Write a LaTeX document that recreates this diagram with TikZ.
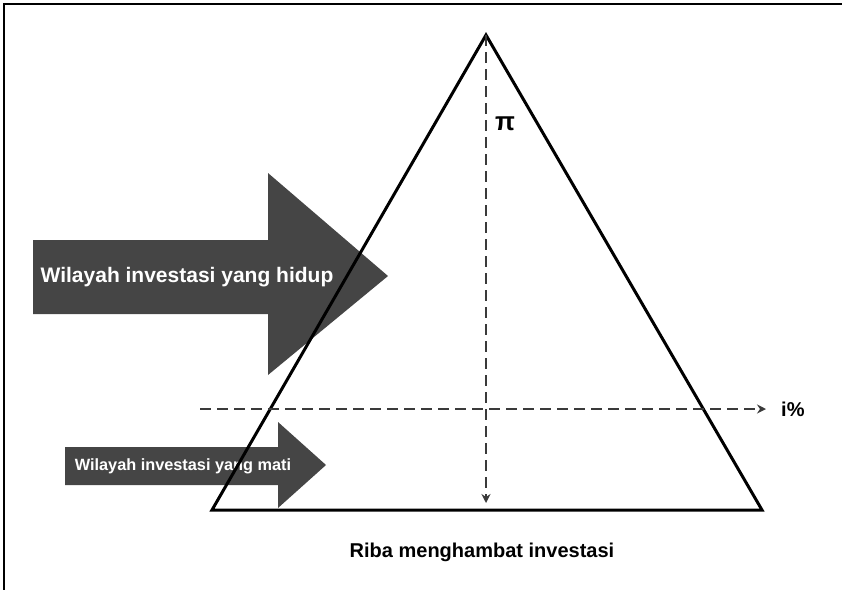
\documentclass[tikz,border=0pt]{standalone}
\usepackage{fontspec}
\setmainfont{Liberation Sans}
\usetikzlibrary{arrows.meta,positioning}
\definecolor{zonegray}{HTML}{454545}
\definecolor{axisgray}{HTML}{3A3A3A}

\begin{document}
\begin{tikzpicture}[x=1pt,y=-1pt,
  zonearrow/.style={fill=zonegray,draw=none},
  zonetext/.style={text=white,font=\bfseries\fontsize{#1}{#1}\selectfont,inner sep=0pt},
  axisline/.style={dash pattern=on 11pt off 6pt,line width=2.2pt,draw=axisgray,-{Stealth[length=9pt,width=9pt]}},
  axislabel/.style={font=\bfseries\fontsize{20}{24}\selectfont,inner sep=0pt}]
  \useasboundingbox (0,0) rectangle (842,590);
  % frame, top and left only
  \draw[line width=2.5pt] (842,4) -- (4,4) -- (4,590);

  % the two investment zones
  \fill[zonearrow] (33,240) -- (268,240) -- (268,173) -- (388,276) -- (268,375) -- (268,314) -- (33,314) -- cycle;
  \node[zonetext=21] (alive) at (187,277) {Wilayah investasi yang hidup};
  \fill[zonearrow] (65,447) -- (278,447) -- (278,422) -- (326,465) -- (278,508) -- (278,485) -- (65,485) -- cycle;
  \node[zonetext=16.3] (dead) at (183,466) {Wilayah investasi yang mati};

  % triangle
  \coordinate (apex) at (486,35);
  \coordinate (baseL) at (212,510);
  \coordinate (baseR) at (762,510);
  \draw[line width=3pt] (apex) -- (baseL) -- (baseR) -- cycle;

  % profit axis and interest rate line
  \coordinate (foot) at (486,503);
  \draw[axisline] (apex) -- (foot);
  \node[axislabel,font=\bfseries\fontsize{26}{28}\selectfont] (profit) at (505,124) {π};
  \coordinate (rateL) at (200,409);
  \coordinate (rateR) at (766,409);
  \draw[axisline] (rateL) -- (rateR);
  \node[axislabel,right=15pt of rateR] (rate) {i\%};

  \node[axislabel] (caption) at (482,552) {Riba menghambat investasi};
\end{tikzpicture}
\end{document}
